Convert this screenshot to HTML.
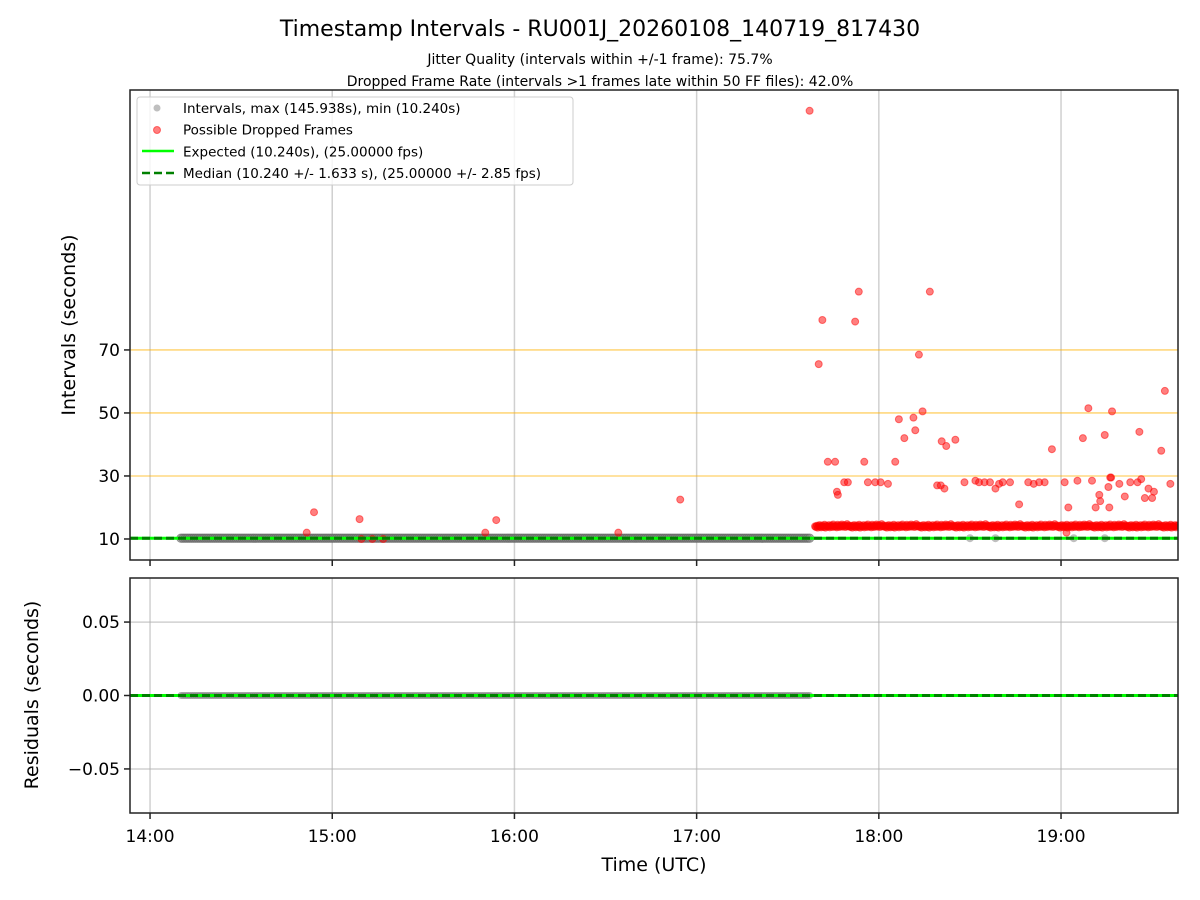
<!DOCTYPE html>
<html><head><meta charset="utf-8"><style>
html,body{margin:0;padding:0;background:#fff;}
svg{display:block;font-family:"DejaVu Sans","Liberation Sans",sans-serif;}
</style></head><body>
<svg id="chart" width="1200" height="900" viewBox="0 0 1200 900" xmlns="http://www.w3.org/2000/svg">
<text x="600" y="36" font-size="22" text-anchor="middle">Timestamp Intervals - RU001J_20260108_140719_817430</text>
<text x="600" y="64" font-size="14" text-anchor="middle">Jitter Quality (intervals within +/-1 frame): 75.7%</text>
<text x="600" y="86" font-size="14" text-anchor="middle">Dropped Frame Rate (intervals &gt;1 frames late within 50 FF files): 42.0%</text>
<g id="topPanel"></g>
<g id="botPanel"></g>
<text transform="translate(75,325) rotate(-90)" font-size="19" text-anchor="middle">Intervals (seconds)</text>
<text transform="translate(38,695) rotate(-90)" font-size="19" text-anchor="middle">Residuals (seconds)</text>
<text x="654" y="871" font-size="19" text-anchor="middle">Time (UTC)</text>
</svg>
<script>
const xTickHours=[14,15,16,17,18,19];
const xTickLabels=["14:00","15:00","16:00","17:00","18:00","19:00"];
const yTicksTop=[10,30,50,70];
const yTicksBot=[-0.05,0,0.05];
const yTickLabelsBot=["\u22120.05","0.00","0.05"];
const normalStart=14.17, normalEnd=17.62, normalCount=300, expected=10.24, median=10.24;
const normalOffTimes=[18.50,18.64,19.07,19.24];
const outTimes=[14.86,14.90,15.15,15.16,15.22,15.28,15.84,15.90,16.57,16.91,17.62,17.67,17.69,17.72,17.76,17.77,17.775,17.81,17.83,17.87,17.89,17.92,17.94,17.98,18.01,18.05,18.09,18.11,18.14,18.19,18.20,18.22,18.24,18.28,18.32,18.34,18.345,18.36,18.37,18.42,18.47,18.53,18.55,18.58,18.61,18.64,18.66,18.68,18.72,18.77,18.82,18.85,18.88,18.91,18.95,19.02,19.04,19.03,19.09,19.12,19.15,19.17,19.19,19.21,19.215,19.24,19.26,19.27,19.275,19.265,19.28,19.32,19.35,19.38,19.42,19.43,19.44,19.46,19.48,19.50,19.51,19.55,19.57,19.60,19.62];
const outVals=[12,18.5,16.3,10,10,10,12,16,12,22.5,145.9,65.5,79.5,34.5,34.5,25,24,28,28,79,88.5,34.5,28,28,28,27.5,34.5,48,42,48.5,44.5,68.5,50.5,88.5,27,27,41,26,39.5,41.5,28,28.5,28,28,28,26,27.5,28,28,21,28,27.5,28,28,38.5,28,20,12,28.5,42,51.5,28.5,20,24,22,43,26.5,29.5,29.5,20,50.5,27.5,23.5,28,28,44,29,23,26,23,25,38,57,27.5,14];
const bandStart=17.65, bandEnd=19.64;
const bandVals=[14,13.8,14.2,13.6,14.1,14.4,13.9,13.7,14.3,14,13.8,14.5,13.6,14.2,14,13.9,14.4,13.7,14.1,14.3,13.8,14.6,14,13.9,14.2,13.7,14.5,14.1,13.8,14.3,14,14.6,13.9,14.2,14.4,13.8,14.1,14.7,14,14.3];
const bandCount=420;

const NS="http://www.w3.org/2000/svg";
const L=130,R=1178,T1=90,B1=560,T2=578,B2=813;
const xMin=13.89,xMax=19.642;
const X=h=>L+(h-xMin)/(xMax-xMin)*(R-L);
const yT0=3.33,yT1=152.5;
const Y1=v=>B1-(v-yT0)/(yT1-yT0)*(B1-T1);
const Y2=v=>B2-(v+0.08)/0.16*(B2-T2);
function mk(p,tag,a){const e=document.createElementNS(NS,tag);for(const k in a)e.setAttribute(k,a[k]);p.appendChild(e);return e;}
const svgEl=document.getElementById('chart');
const topG=document.getElementById('topPanel'),botG=document.getElementById('botPanel');
const clip=mk(svgEl,'clipPath',{id:'c1'});mk(clip,'rect',{x:L,y:T1,width:R-L,height:B1-T1});
const clip2=mk(svgEl,'clipPath',{id:'c2'});mk(clip2,'rect',{x:L,y:T2,width:R-L,height:B2-T2});
const g1=mk(topG,'g',{'clip-path':'url(#c1)'}),g2=mk(botG,'g',{'clip-path':'url(#c2)'});
xTickHours.forEach(h=>{
 let a=mk(g1,'line',{x1:X(h),x2:X(h),y1:T1,y2:B1,stroke:'#b0b0b0','stroke-opacity':0.6,'stroke-width':1.5});
 
 
 let b=mk(g2,'line',{x1:X(h),x2:X(h),y1:T2,y2:B2,stroke:'#b0b0b0','stroke-opacity':0.6,'stroke-width':1.5});
 
 
});
yTicksTop.slice(1).forEach(v=>{let a=mk(g1,'line',{x1:L,x2:R,y1:Y1(v),y2:Y1(v),stroke:'#ffb000','stroke-opacity':0.6,'stroke-width':1.3});
 
 });
yTicksBot.forEach(v=>{let a=mk(g2,'line',{x1:L,x2:R,y1:Y2(v),y2:Y2(v),stroke:'#b0b0b0','stroke-opacity':0.6,'stroke-width':1.5});
 
 });
for(let i=0;i<normalCount;i++){const t=normalStart+(normalEnd-normalStart)*i/(normalCount-1);
 let c=mk(g1,'circle',{cx:X(t),cy:Y1(expected),r:4.2,fill:'#808080','fill-opacity':0.6,stroke:'#606060','stroke-opacity':0.6});
 
 
 let d=mk(g2,'circle',{cx:X(t),cy:Y2(expected-median),r:3.5,fill:'#808080','fill-opacity':0.6});
 
 }
normalOffTimes.forEach(t=>{let c=mk(g1,'circle',{cx:X(t),cy:Y1(expected),r:4,fill:'#808080','fill-opacity':0.5});
 
 });
for(let i=0;i<bandCount;i++){const t=bandStart+(bandEnd-bandStart)*i/(bandCount-1);
 let c=mk(g1,'circle',{cx:X(t),cy:Y1(bandVals[i%bandVals.length]),r:3.5,fill:'#ff0000','fill-opacity':0.5,stroke:'#ff0000','stroke-opacity':0.5});
 
 }
outTimes.forEach((t,i)=>{let c=mk(g1,'circle',{cx:X(t),cy:Y1(outVals[i]),r:3.5,fill:'#ff0000','fill-opacity':0.5,stroke:'#ff0000','stroke-opacity':0.5});
 
 });
[[g1,Y1(expected),Y1(median)],[g2,Y2(0),Y2(0)]].forEach(([g,ye,ym])=>{
 let a=mk(g,'line',{x1:L,x2:R,y1:ye,y2:ye,stroke:'#00ff00','stroke-width':3});
 
 
 let b=mk(g,'line',{x1:L,x2:R,y1:ym,y2:ym,stroke:'#008000','stroke-width':3,'stroke-dasharray':'8 4'});
 
 });
[[topG,T1,B1],[botG,T2,B2]].forEach(([g,t,b])=>{let r=mk(g,'rect',{x:L,y:t,width:R-L,height:b-t,fill:'none',stroke:'#222','stroke-width':1.5});
 
 });
xTickHours.forEach((h,i)=>{
 mk(topG,'line',{x1:X(h),x2:X(h),y1:B1,y2:B1+6,stroke:'#222','stroke-width':1.5});
 mk(botG,'line',{x1:X(h),x2:X(h),y1:B2,y2:B2+6,stroke:'#222','stroke-width':1.5});
 let t=mk(botG,'text',{x:X(h),y:B2+29,'font-size':17,'text-anchor':'middle'});t.textContent=xTickLabels[i];
 
 });
yTicksTop.forEach(v=>{mk(topG,'line',{x1:L-6,x2:L,y1:Y1(v),y2:Y1(v),stroke:'#222','stroke-width':1.5});
 let t=mk(topG,'text',{x:L-10,y:Y1(v)+6,'font-size':17,'text-anchor':'end'});t.textContent=v;
 
 });
yTicksBot.forEach((v,i)=>{mk(botG,'line',{x1:L-6,x2:L,y1:Y2(v),y2:Y2(v),stroke:'#222','stroke-width':1.5});
 let t=mk(botG,'text',{x:L-10,y:Y2(v)+6,'font-size':17,'text-anchor':'end'});t.textContent=yTickLabelsBot[i];
 
 });
const lg=mk(topG,'g',{});


mk(lg,'rect',{x:137,y:97,width:436,height:88,rx:3,fill:'#fff','fill-opacity':0.8,stroke:'#ccc','stroke-width':1});
mk(lg,'circle',{cx:157,cy:108,r:3.5,fill:'#808080','fill-opacity':0.5});
mk(lg,'circle',{cx:157,cy:130,r:3.5,fill:'#ff0000','fill-opacity':0.5,stroke:'#ff0000','stroke-opacity':0.5});
mk(lg,'line',{x1:142,x2:174,y1:151,y2:151,stroke:'#00ff00','stroke-width':2.5});
mk(lg,'line',{x1:142,x2:174,y1:173,y2:173,stroke:'#008000','stroke-width':2.5,'stroke-dasharray':'8 4'});
["Intervals, max (145.938s), min (10.240s)","Possible Dropped Frames","Expected (10.240s), (25.00000 fps)","Median (10.240 +/- 1.633 s), (25.00000 +/- 2.85 fps)"].forEach((s,i)=>{
 let t=mk(lg,'text',{x:183,y:113+i*21.7,'font-size':13.5});t.textContent=s;
 
 });
</script>
</body></html>
